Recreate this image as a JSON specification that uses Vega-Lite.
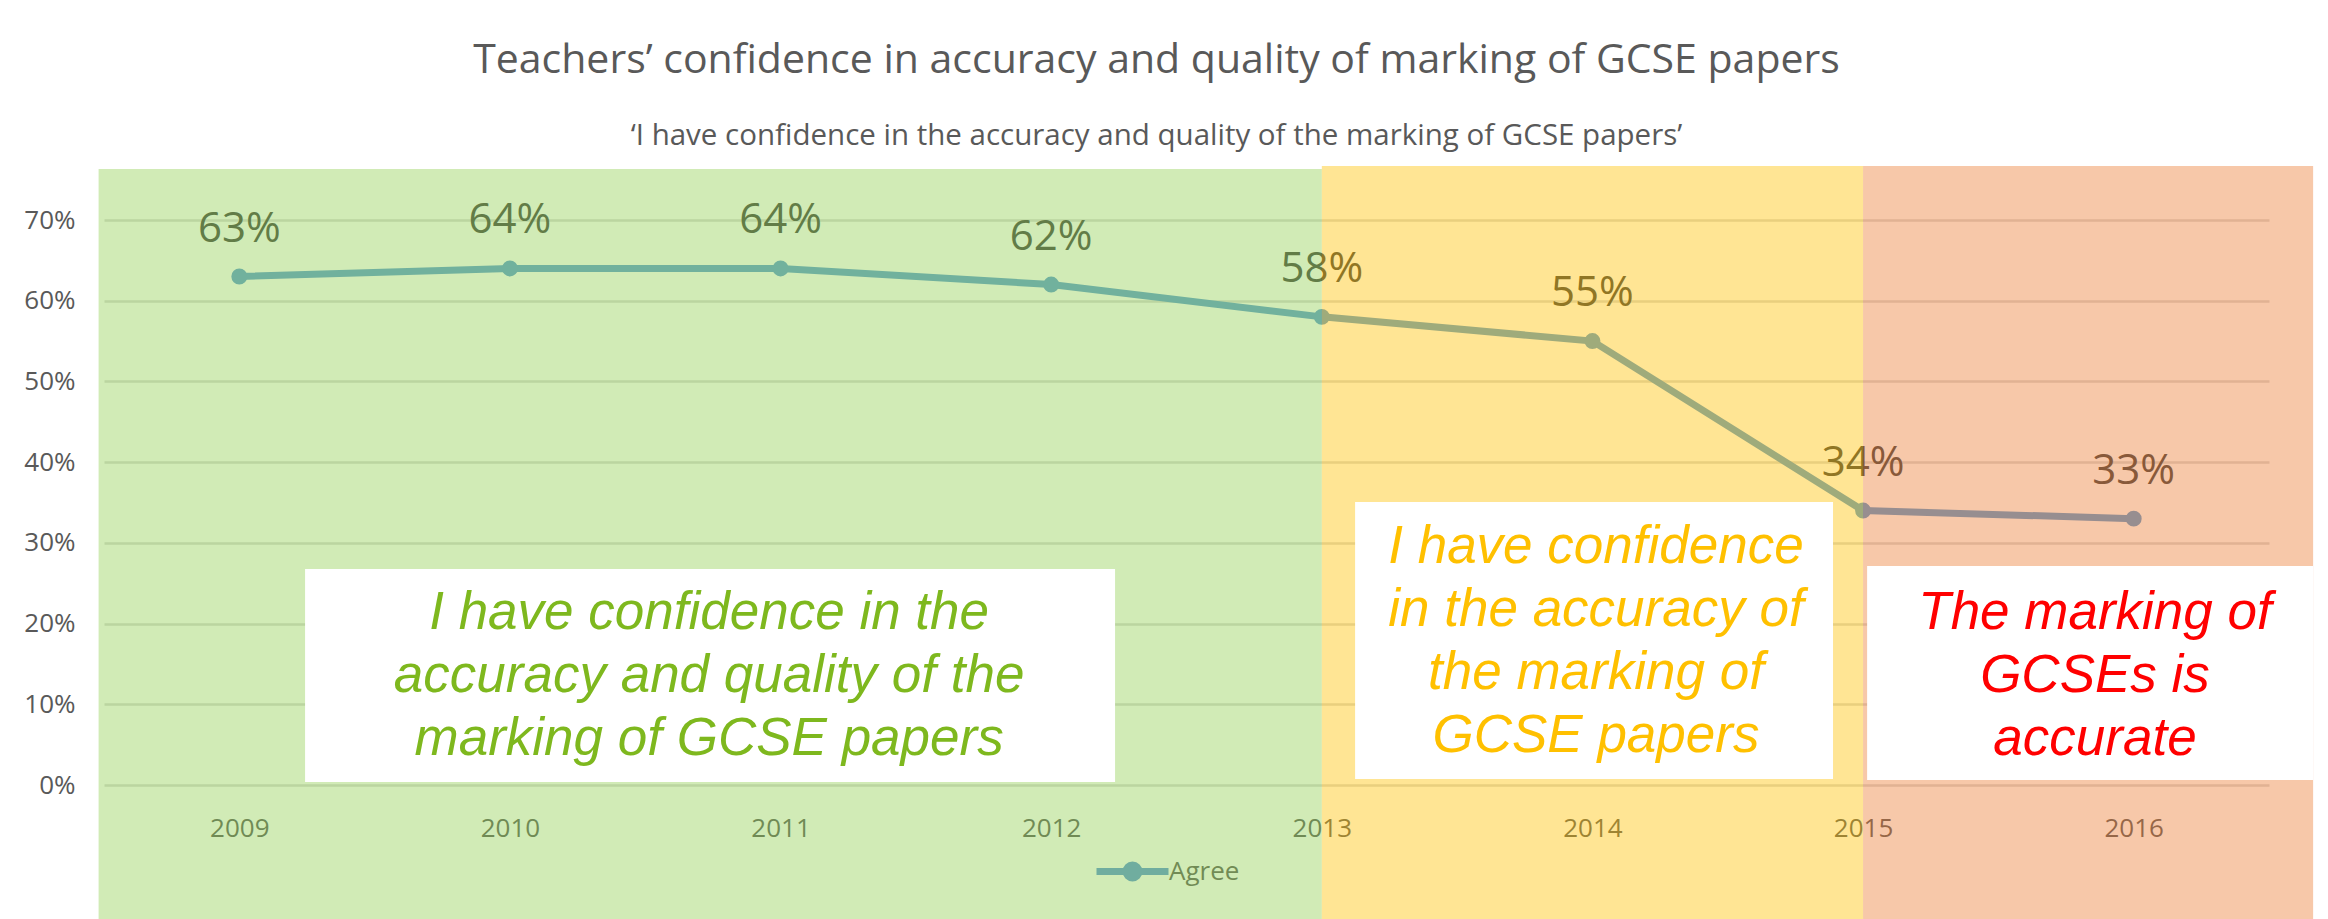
{
  "$schema": "https://vega.github.io/schema/vega-lite/v6.json",
  "width": 2165,
  "height": 565,
  "autosize": "none",
  "padding": {"left": 104, "top": 220, "right": 59, "bottom": 134},
  "background": "white",
  "config": {
    "view": {"stroke": null},
    "font": "Open Sans",
    "axisX": {"format": "d", "title": null, "domain": false, "ticks": false, "grid": false, "labelPadding": 30, "labelFont": "Open Sans", "labelFontSize": 26, "labelColor": "#595959", "labelFlush": false, "labelOverlap": false},
    "axisY": {"format": ".0%", "title": null, "domain": false, "ticks": false, "grid": true, "gridColor": "#D9D9D9", "gridWidth": 2.5, "labelPadding": 29, "labelFont": "Open Sans", "labelFontSize": 26, "labelColor": "#595959"}
  },
  "title": {
    "text": "Teachers’ confidence in accuracy and quality of marking of GCSE papers",
    "subtitle": "‘I have confidence in the accuracy and quality of the marking of GCSE papers’",
    "anchor": "middle",
    "frame": "group",
    "font": "Open Sans",
    "fontSize": 41,
    "fontWeight": "normal",
    "color": "#595959",
    "subtitleFont": "Open Sans",
    "subtitleFontSize": 29.5,
    "subtitleColor": "#595959",
    "subtitlePadding": 39.5,
    "offset": 15,
    "dx": -30
  },
  "datasets": {
    "points": [
      {"year": 2009, "value": 0.63, "series": "Agree"},
      {"year": 2010, "value": 0.64, "series": "Agree"},
      {"year": 2011, "value": 0.64, "series": "Agree"},
      {"year": 2012, "value": 0.62, "series": "Agree"},
      {"year": 2013, "value": 0.58, "series": "Agree"},
      {"year": 2014, "value": 0.55, "series": "Agree"},
      {"year": 2015, "value": 0.34, "series": "Agree"},
      {"year": 2016, "value": 0.33, "series": "Agree"}
    ],
    "zones": [
      {"zone": "accuracy and quality", "x0": 2008.48, "x1": 2013, "y0": -0.2, "y1": 0.7632},
      {"zone": "accuracy", "x0": 2013, "x1": 2015, "y0": -0.2, "y1": 0.7669},
      {"zone": "accurate", "x0": 2015, "x1": 2016.663, "y0": -0.2, "y1": 0.7669}
    ],
    "boxes": [
      {"zone": "accuracy and quality", "x0": 2009.243, "x1": 2012.236, "y0": 0.0037, "y1": 0.2676, "tx": 2010.736, "ty": 0.1933, "label": "I have confidence in the\naccuracy and quality of the\nmarking of GCSE papers"},
      {"zone": "accuracy", "x0": 2013.123, "x1": 2014.889, "y0": 0.0074, "y1": 0.3506, "tx": 2014.013, "ty": 0.275, "label": "I have confidence\nin the accuracy of\nthe marking of\nGCSE papers"},
      {"zone": "accurate", "x0": 2015.015, "x1": 2016.663, "y0": 0.0062, "y1": 0.2713, "tx": 2015.857, "ty": 0.1933, "label": "The marking of\nGCSEs is\naccurate"}
    ]
  },
  "resolve": {"scale": {"color": "independent", "opacity": "independent"}},
  "layer": [
    {
      "data": {"name": "points"},
      "mark": {"type": "line", "strokeWidth": 7, "color": "#5B9BD5"},
      "encoding": {
        "x": {"field": "year", "type": "quantitative", "title": null, "scale": {"domain": [2008.5, 2016.5], "nice": false, "zero": false}, "axis": {"values": [2009, 2010, 2011, 2012, 2013, 2014, 2015, 2016]}},
        "y": {"field": "value", "type": "quantitative", "title": null, "scale": {"domain": [0, 0.7], "nice": false, "zero": false}, "axis": {"values": [0, 0.1, 0.2, 0.3, 0.4, 0.5, 0.6, 0.7]}}
      }
    },
    {
      "data": {"name": "points"},
      "mark": {"type": "line", "strokeWidth": 7, "opacity": 0},
      "encoding": {
        "x": {"field": "year", "type": "quantitative", "title": null, "scale": {"domain": [2008.5, 2016.5], "nice": false, "zero": false}},
        "y": {"field": "value", "type": "quantitative", "title": null, "scale": {"domain": [0, 0.7], "nice": false, "zero": false}},
        "color": {
          "field": "series", "type": "nominal",
          "scale": {"domain": ["Agree"], "range": ["#70AD9F"]},
          "legend": {
            "title": null,
            "orient": "none",
            "legendX": 989,
            "legendY": 612,
            "direction": "horizontal",
            "padding": 0,
            "symbolType": "M-1,0H1M0.18,0A0.18,0.18,0,1,1,-0.18,0A0.18,0.18,0,1,1,0.18,0ZM0.06,0A0.06,0.06,0,1,1,-0.06,0A0.06,0.06,0,1,1,0.06,0Z",
            "symbolSize": 5184,
            "symbolStrokeWidth": 7,
            "symbolStrokeColor": "#70AD9F",
            "symbolFillColor": "#70AD9F",
            "symbolOpacity": 1,
            "labelFont": "Open Sans",
            "labelFontSize": 26,
            "labelColor": "#718B55",
            "labelOffset": -3
          }
        }
      }
    },
    {
      "data": {"name": "points"},
      "mark": {"type": "point", "filled": true, "size": 254, "opacity": 1, "color": "#5B9BD5"},
      "encoding": {
        "x": {"field": "year", "type": "quantitative", "title": null, "scale": {"domain": [2008.5, 2016.5], "nice": false, "zero": false}},
        "y": {"field": "value", "type": "quantitative", "title": null, "scale": {"domain": [0, 0.7], "nice": false, "zero": false}}
      }
    },
    {
      "data": {"name": "points"},
      "mark": {"type": "text", "dy": -48, "font": "Open Sans", "fontSize": 42, "color": "#404040", "baseline": "middle", "align": "center"},
      "encoding": {
        "x": {"field": "year", "type": "quantitative", "title": null, "scale": {"domain": [2008.5, 2016.5], "nice": false, "zero": false}},
        "y": {"field": "value", "type": "quantitative", "title": null, "scale": {"domain": [0, 0.7], "nice": false, "zero": false}},
        "text": {"field": "value", "type": "quantitative", "format": ".0%"}
      }
    },
    {
      "data": {"name": "zones"},
      "mark": {"type": "rect"},
      "encoding": {
        "x": {"field": "x0", "type": "quantitative", "title": null, "scale": {"domain": [2008.5, 2016.5], "nice": false, "zero": false}},
        "x2": {"field": "x1"},
        "y": {"field": "y0", "type": "quantitative", "title": null, "scale": {"domain": [0, 0.7], "nice": false, "zero": false}},
        "y2": {"field": "y1"},
        "color": {"field": "zone", "type": "nominal", "scale": {"domain": ["accuracy and quality", "accuracy", "accurate"], "range": ["#92D050", "#FFC000", "#ED7D31"]}, "legend": null},
        "opacity": {"field": "zone", "type": "nominal", "scale": {"domain": ["accuracy and quality", "accuracy", "accurate"], "range": [0.42, 0.42, 0.3]}, "legend": null}
      }
    },
    {
      "data": {"name": "boxes"},
      "mark": {"type": "rect", "color": "#FFFFFF", "opacity": 1},
      "encoding": {
        "x": {"field": "x0", "type": "quantitative", "title": null, "scale": {"domain": [2008.5, 2016.5], "nice": false, "zero": false}},
        "x2": {"field": "x1"},
        "y": {"field": "y0", "type": "quantitative", "title": null, "scale": {"domain": [0, 0.7], "nice": false, "zero": false}},
        "y2": {"field": "y1"}
      }
    },
    {
      "data": {"name": "boxes"},
      "mark": {"type": "text", "font": "Liberation Sans", "fontStyle": "italic", "fontSize": 53, "lineHeight": 63, "lineBreak": "\n", "align": "center", "baseline": "alphabetic"},
      "encoding": {
        "x": {"field": "tx", "type": "quantitative", "title": null, "scale": {"domain": [2008.5, 2016.5], "nice": false, "zero": false}},
        "y": {"field": "ty", "type": "quantitative", "title": null, "scale": {"domain": [0, 0.7], "nice": false, "zero": false}},
        "text": {"field": "label", "type": "nominal"},
        "color": {"field": "zone", "type": "nominal", "scale": {"domain": ["accuracy and quality", "accuracy", "accurate"], "range": ["#7EB81E", "#FFC000", "#FF0000"]}, "legend": null}
      }
    }
  ]
}
